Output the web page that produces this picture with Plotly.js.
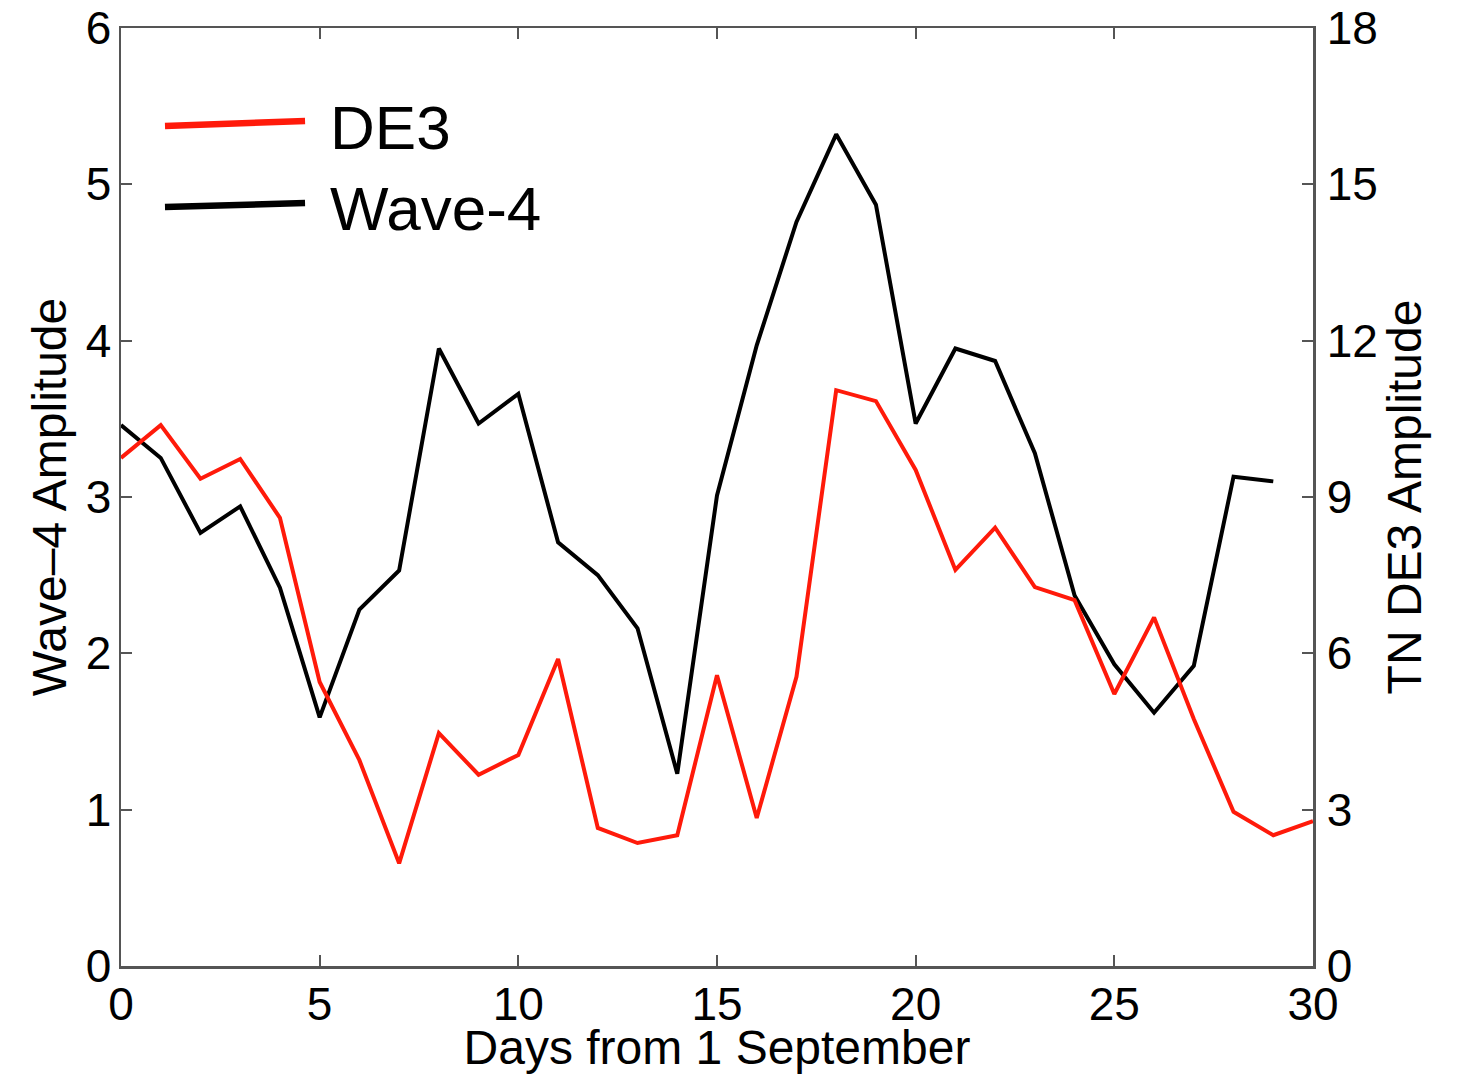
<!DOCTYPE html>
<html>
<head>
<meta charset="utf-8">
<script src="https://cdn.plot.ly/plotly-3.0.1.min.js"></script>
<style>
  html, body { margin: 0; padding: 0; background: #ffffff; }
  #chart { width: 1457px; height: 1074px; }
</style>
</head>
<body>
<div id="chart"></div>
<script>
// Days from 1 September
const days = [0, 1, 2, 3, 4, 5, 6, 7, 8, 9, 10, 11, 12, 13, 14, 15,
              16, 17, 18, 19, 20, 21, 22, 23, 24, 25, 26, 27, 28, 29, 30];

// Wave-4 amplitude (left axis), days 0-29
const wave4 = [3.46, 3.25, 2.77, 2.94, 2.42, 1.59, 2.28, 2.53, 3.95, 3.47,
               3.66, 2.71, 2.50, 2.16, 1.23, 3.01, 3.97, 4.76, 5.32, 4.87,
               3.47, 3.95, 3.87, 3.28, 2.37, 1.93, 1.62, 1.92, 3.13, 3.10];

// TN DE3 amplitude (right axis), days 0-30
const de3 = [9.75, 10.38, 9.35, 9.73, 8.60, 5.45, 3.95, 1.97, 4.47, 3.67,
             4.05, 5.89, 2.65, 2.36, 2.51, 5.58, 2.84, 5.55, 11.05, 10.84,
             9.52, 7.60, 8.41, 7.27, 7.02, 5.22, 6.69, 4.74, 2.96, 2.51, 2.78];

const seriesNames = ['DE3', 'Wave-4'];
const xTicks = [0, 5, 10, 15, 20, 25, 30];
const yLeftTicks = [0, 1, 2, 3, 4, 5, 6];
const yRightTicks = [0, 3, 6, 9, 12, 15, 18];

const FONT = 'Liberation Sans, Arial, Helvetica, sans-serif';
const AXIS_GRAY = '#555555';
const RED = '#ff1a0a';

const traces = [
  {
    x: days.slice(0, de3.length), y: de3, yaxis: 'y2',
    type: 'scatter', mode: 'lines', name: seriesNames[0],
    line: { color: RED, width: 4 }, showlegend: false
  },
  {
    x: days.slice(0, wave4.length), y: wave4, yaxis: 'y',
    type: 'scatter', mode: 'lines', name: seriesNames[1],
    line: { color: '#000000', width: 4 }, showlegend: false
  }
];

const axisCommon = {
  showgrid: false, zeroline: false,
  showline: true, linecolor: AXIS_GRAY, linewidth: 2.5,
  ticks: 'inside', ticklen: 11, tickwidth: 2, tickcolor: AXIS_GRAY,
  tickfont: { family: FONT, size: 46, color: '#000000' }
};

// Hand-drawn key: long line samples with large labels
const keyRows = [
  { name: seriesNames[0], color: RED, y0: 0.8955, y1: 0.9009, ty: 0.8934 },
  { name: seriesNames[1], color: '#000000', y0: 0.8092, y1: 0.8134, ty: 0.8081 }
];

const layout = {
  width: 1457, height: 1074,
  paper_bgcolor: '#ffffff', plot_bgcolor: '#ffffff',
  margin: { l: 121, r: 144, t: 28, b: 108 },
  showlegend: false,
  xaxis: Object.assign({}, axisCommon, {
    range: [0, 30], tickvals: xTicks, mirror: 'ticks',
    ticklabelstandoff: -4,
    title: { text: 'Days from 1 September', font: { family: FONT, size: 48, color: '#000000' }, standoff: 0 }
  }),
  yaxis: Object.assign({}, axisCommon, {
    range: [0, 6], tickvals: yLeftTicks, mirror: 'ticks',
    ticklabelstandoff: -2,
    title: { text: 'Wave\u20134 Amplitude', font: { family: FONT, size: 48, color: '#000000' }, standoff: 4 }
  }),
  yaxis2: Object.assign({}, axisCommon, {
    range: [0, 18], tickvals: yRightTicks, overlaying: 'y', side: 'right',
    ticklabelstandoff: 2,
    title: { text: 'TN DE3 Amplitude', font: { family: FONT, size: 48, color: '#000000' }, standoff: 10 }
  }),
  shapes: keyRows.map(r => ({
    type: 'line', xref: 'paper', yref: 'paper',
    x0: 0.0369, x1: 0.1544, y0: r.y0, y1: r.y1,
    line: { color: r.color, width: 6.5 }
  })),
  annotations: keyRows.map(r => ({
    xref: 'paper', yref: 'paper', x: 0.1733, y: r.ty,
    xanchor: 'left', yanchor: 'middle', showarrow: false,
    text: r.name, font: { family: FONT, size: 62, color: '#000000' }
  }))
};

Plotly.newPlot('chart', traces, layout, { staticPlot: true, displayModeBar: false });
</script>
</body>
</html>
